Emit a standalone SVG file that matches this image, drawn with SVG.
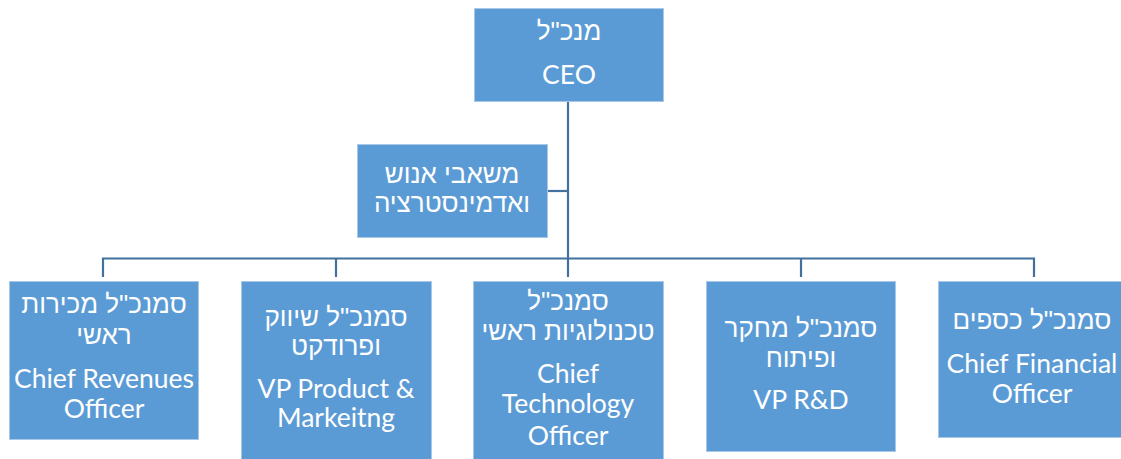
<svg xmlns="http://www.w3.org/2000/svg" width="1121" height="459" viewBox="0 0 1121 459">
  <style>
    .box { fill: #5B9BD5; stroke: #A8C8E8; stroke-width: 1; }
    .link { fill: none; stroke: #41719C; stroke-width: 2.2; }
    text { font-family: Lato, "Liberation Sans", "DejaVu Sans", sans-serif; fill: #FFFFFF; text-anchor: middle; }
    .he { font-family: "Liberation Sans", "DejaVu Sans", sans-serif; font-size: 26px; }
    .en { font-size: 26.5px; }
  </style>
  <rect width="1121" height="459" fill="#FFFFFF"/>

  <!-- connectors -->
  <g id="connectors">
    <path class="link" d="M568,102 V277"/>
    <path class="link" d="M547,191 H568"/>
    <path class="link" d="M103,277 V258.5 H1034 V277"/>
    <path class="link" d="M336,258.5 V277"/>
    <path class="link" d="M801,258.5 V277"/>
  </g>

  <g id="ceo">
    <rect class="box" x="474.5" y="8.5" width="189" height="93"/>
    <text class="he" x="569" y="40">מנכ"ל</text>
    <text class="en" x="569" y="84">CEO</text>
  </g>

  <g id="hr">
    <rect class="box" x="357.5" y="144.5" width="190" height="93"/>
    <text class="he" x="452" y="183">משאבי אנוש</text>
    <text class="he" x="452" y="212">ואדמינסטרציה</text>
  </g>

  <g id="cro">
    <rect class="box" x="9.5" y="281.5" width="189" height="158"/>
    <text class="he" x="104" y="313">סמנכ"ל מכירות</text>
    <text class="he" x="104" y="344">ראשי</text>
    <text class="en" x="104" y="388">Chief Revenues</text>
    <text class="en" x="104" y="418">Officer</text>
  </g>

  <g id="vp-product">
    <rect class="box" x="241.5" y="281.5" width="190" height="190"/>
    <text class="he" x="336" y="326">סמנכ"ל שיווק</text>
    <text class="he" x="336" y="355">ופרודקט</text>
    <text class="en" x="336" y="398">VP Product &amp;</text>
    <text class="en" x="336" y="427">Markeitng</text>
  </g>

  <g id="cto">
    <rect class="box" x="473.5" y="281.5" width="190" height="190"/>
    <text class="he" x="568" y="310">סמנכ"ל</text>
    <text class="he" x="568" y="340">טכנולוגיות ראשי</text>
    <text class="en" x="568" y="383">Chief</text>
    <text class="en" x="568" y="413">Technology</text>
    <text class="en" x="568" y="445">Officer</text>
  </g>

  <g id="vp-rnd">
    <rect class="box" x="706.5" y="281.5" width="189" height="170"/>
    <text class="he" x="801" y="337">סמנכ"ל מחקר</text>
    <text class="he" x="801" y="367">ופיתוח</text>
    <text class="en" x="801" y="409">VP R&amp;D</text>
  </g>

  <g id="cfo">
    <rect class="box" x="938.5" y="281.5" width="190" height="156"/>
    <text class="he" x="1032" y="329">סמנכ"ל כספים</text>
    <text class="en" x="1032" y="373">Chief Financial</text>
    <text class="en" x="1032" y="403">Officer</text>
  </g>
</svg>
